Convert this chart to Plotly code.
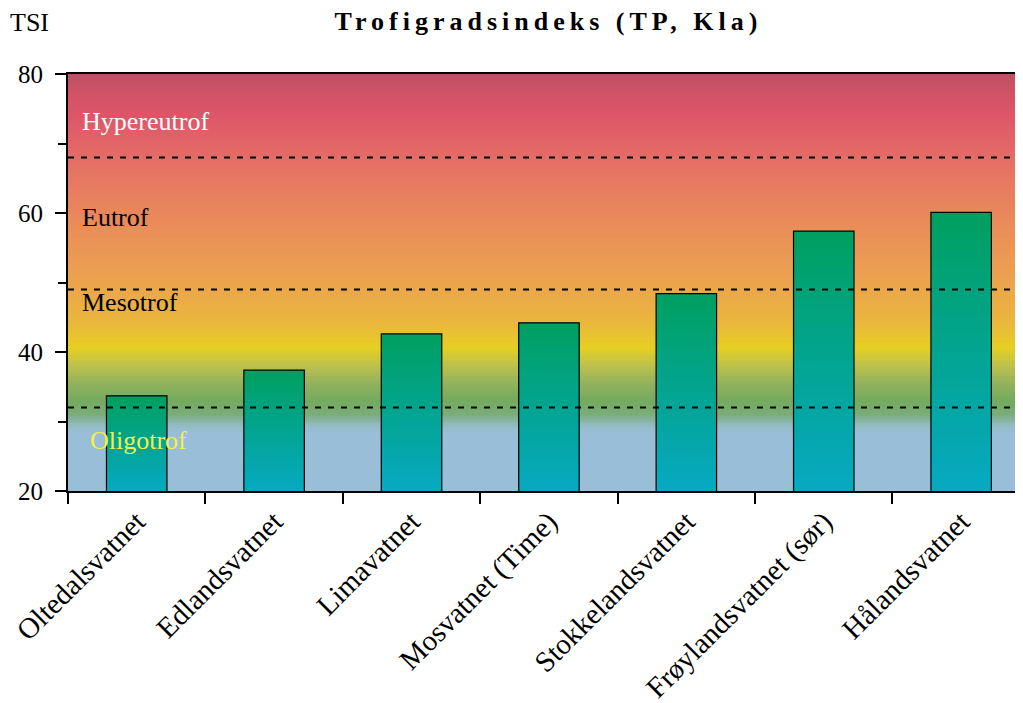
import plotly.graph_objects as go
import numpy as np

# ---- data ----
lakes = ["Oltedalsvatnet", "Edlandsvatnet", "Limavatnet", "Mosvatnet (Time)",
         "Stokkelandsvatnet", "Frøylandsvatnet (sør)", "Hålandsvatnet"]
tsi = [33.7, 37.4, 42.6, 44.2, 48.4, 57.4, 60.1]

class_limits = [32, 49, 68]
class_names = ["Oligotrof", "Mesotrof", "Eutrof", "Hypereutrof"]
class_label_tsi = [27.3, 47.1, 59.4, 73.2]
class_label_colors = ["#f2f04a", "black", "black", "white"]

title = "Trofigradsindeks (TP, Kla)"
y_label = "TSI"
y_ticks = [20, 40, 60, 80]
y_minor = [30, 50, 70]

# background gradient (TSI level -> colour)
bg_levels = [20, 28.4, 29.4, 31.0, 33.0, 35.5, 38.0, 40.6, 44.0, 48.0, 52.0,
             56.0, 61.0, 65.0, 70.0, 74.0, 77.0, 80.0]
bg_colors = ['#98bed8', '#98bed8', '#92bbc4', '#7bad7c', '#74aa5e', '#93b25c',
             '#bcc14c', '#e6cf22', '#eab83c', '#ebaa48', '#eb9e52', '#ea9356',
             '#e8845d', '#e67862', '#e26568', '#dd5668', '#d15366', '#bd5065']

# bar fill gradient: bottom colour -> top colour
bar_bottom_rgb = (6, 169, 194)
bar_top_rgb = (0, 160, 96)

FONT = "Liberation Serif"
Y0 = 20

# ---- figure ----
fig = go.Figure()

edges = np.linspace(20, 80, 241)
centers = (edges[:-1] + edges[1:]) / 2
cs = [[(l - 20) / 60, c] for l, c in zip(bg_levels, bg_colors)]
fig.add_trace(go.Heatmap(
    x=lakes, y=edges, z=[[c] * len(lakes) for c in centers],
    colorscale=cs, zmin=20, zmax=80, showscale=False, hoverinfo="skip"))

# vertical colour gradient inside each bar (decoration only)
N = 30
gx, gbase, gh, gcol = [], [], [], []
for lake, v in zip(lakes, tsi):
    step = (v - Y0) / N
    for k in range(N):
        f = (k + 0.5) / N
        rgb = [round(b + (t - b) * f) for b, t in zip(bar_bottom_rgb, bar_top_rgb)]
        b0 = Y0 + k * step
        gx.append(lake)
        gbase.append(b0)
        gh.append(min(b0 + 2 * step, v) - b0)
        gcol.append("rgb(%d,%d,%d)" % tuple(rgb))
fig.add_trace(go.Bar(x=gx, y=gh, base=gbase, width=0.44,
                     marker=dict(color=gcol, line=dict(width=0)),
                     hoverinfo="skip", showlegend=False))

# the data bars (outline)
fig.add_trace(go.Bar(
    x=lakes, y=tsi, width=0.44,
    marker=dict(color="rgba(0,0,0,0)", line=dict(color="black", width=1.2)),
    showlegend=False))

for lim in class_limits:
    fig.add_shape(type="line", xref="paper", x0=0, x1=1, y0=lim, y1=lim,
                  layer="above", line=dict(color="black", width=2, dash="6px,7px"))

for name, yv, col in zip(class_names, class_label_tsi, class_label_colors):
    xpos = 0.021 if name == "Oligotrof" else 0.0126
    fig.add_annotation(x=xpos, xref="paper", y=yv, yref="y", text=name,
                       showarrow=False, xanchor="left", yanchor="middle",
                       font=dict(family=FONT, size=26, color=col))

fig.add_annotation(x=-0.0398, xref="paper", y=1.1247, yref="paper", text=y_label,
                   showarrow=False, xanchor="center", yanchor="middle",
                   font=dict(family=FONT, size=26, color="black"))

# the page has an 8px body margin, so the figure is sized to fit the window
fig.update_layout(
    width=1015, height=695,
    margin=dict(l=60, r=0, t=66, b=212),
    paper_bgcolor="white", plot_bgcolor="white",
    showlegend=False, barmode="overlay",
    title=dict(text='<span style="letter-spacing:5px">' + title + '</span>',
               x=0.5325, xanchor="center", y=1 - 13 / 695, yanchor="middle",
               yref="container",
               font=dict(family=FONT, size=26, color="black", weight="bold")),
    xaxis=dict(range=[-0.5, 6.45], type="category", tickson="boundaries",
               automargin=False,
               ticks="outside", ticklen=11, tickwidth=2, tickcolor="black",
               showline=True, linewidth=2, linecolor="black", mirror=True,
               showgrid=False, tickangle=-45,
               tickfont=dict(family=FONT, size=29, color="black")),
    yaxis=dict(range=[20, 80], tickvals=y_ticks, ticks="outside", ticklen=11,
               automargin=False,
               tickwidth=2, tickcolor="black", showline=True, linewidth=2,
               linecolor="black", showgrid=False, zeroline=False,
               ticklabelstandoff=7,
               minor=dict(tickvals=y_minor, ticks="outside", ticklen=8,
                          tickwidth=1.5, tickcolor="black", showgrid=False),
               tickfont=dict(family=FONT, size=25, color="black")),
)

fig.write_html("out.html")
